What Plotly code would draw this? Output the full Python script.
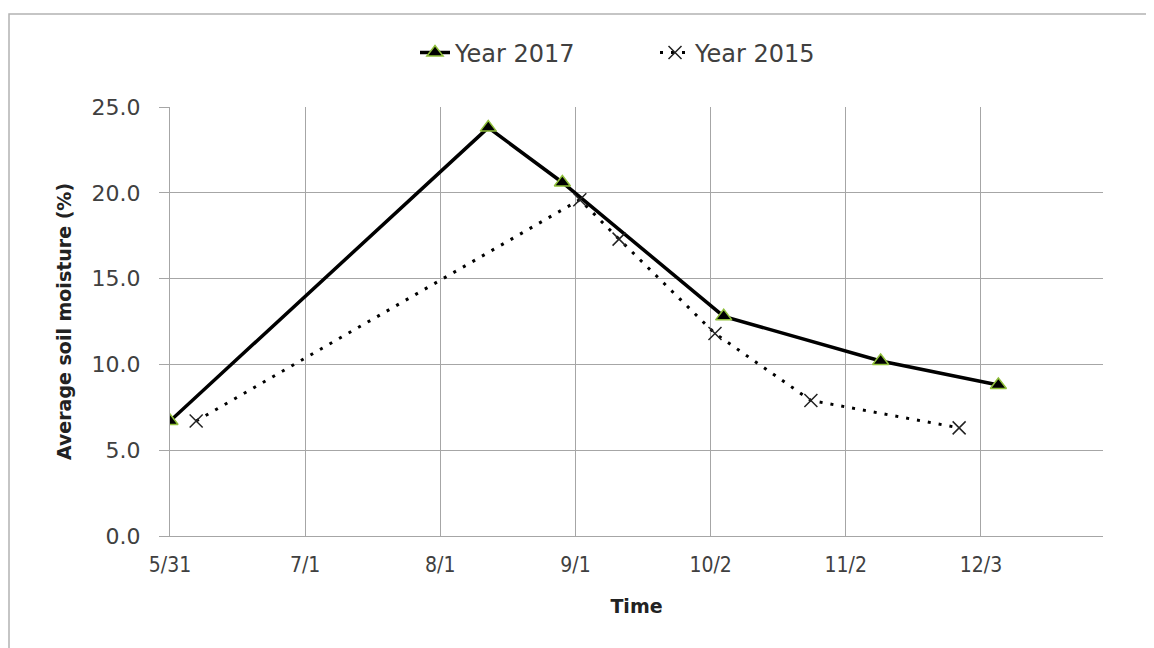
import plotly.graph_objects as go

# Data (dates plotted on a common year; axis shows month/day only)
dates_2017 = ["2017-05-31", "2017-08-12", "2017-08-29", "2017-10-05", "2017-11-10", "2017-12-07"]
moist_2017 = [6.7, 23.8, 20.6, 12.8, 10.2, 8.8]

dates_2015 = ["2017-06-06", "2017-09-02", "2017-09-11", "2017-10-03", "2017-10-25", "2017-11-28"]
moist_2015 = [6.7, 19.6, 17.3, 11.8, 7.9, 6.3]

y_ticks = [0, 5, 10, 15, 20, 25]

fig = go.Figure()
fig.add_trace(go.Scatter(
    x=dates_2017, y=moist_2017, name="Year 2017", mode="lines+markers",
    line=dict(color="black", width=3.5),
    marker=dict(symbol="triangle-up", size=14, color="black",
                line=dict(color="#8fbf3a", width=1.5)),
))
fig.add_trace(go.Scatter(
    x=dates_2015, y=moist_2015, name="Year 2015", mode="lines+markers",
    line=dict(color="black", width=3, dash="3px,8px"),
    marker=dict(symbol="x-thin", size=13, color="black",
                line=dict(color="#222222", width=1.5)),
))

grid = "#a6a6a6"
txt = "#404040"
# body has an 8px offset in the page, compensated in the margins
fig.update_layout(
    width=1154, height=648,
    paper_bgcolor="white", plot_bgcolor="white",
    margin=dict(l=162, r=59, t=99, b=120),
    font=dict(family="DejaVu Sans", size=20, color=txt),
    showlegend=True,
    legend=dict(orientation="h", x=0.2626, xanchor="left", y=1.126, yanchor="middle",
                font=dict(family="DejaVu Sans", size=24, color=txt),
                bgcolor="rgba(0,0,0,0)", entrywidth=195, traceorder="normal"),
    xaxis=dict(
        type="date", range=["2017-05-31", "2017-12-31"],
        tick0="2017-05-31", dtick=31 * 86400000, tickformat="%-m/%-d",
        showgrid=True, gridcolor=grid, gridwidth=1,
        showline=True, linecolor=grid, linewidth=1,
        ticks="", zeroline=False, ticklabelstandoff=10,
        tickfont=dict(family="DejaVu Sans Condensed", size=21, color=txt),
        title=dict(text="<b>Time</b>", font=dict(family="DejaVu Sans", size=19, color="#222222"), standoff=23),
    ),
    yaxis=dict(
        range=[0, 25], tickvals=y_ticks, ticktext=[f"{v:.1f}" for v in y_ticks],
        showgrid=True, gridcolor=grid, gridwidth=1,
        showline=True, linecolor=grid, linewidth=1,
        ticks="outside", ticklen=10, tickcolor=grid, zeroline=False,
        ticklabelstandoff=14,
        tickfont=dict(family="DejaVu Sans", size=22, color=txt),
        title=dict(text="<b>Average soil moisture (%)</b>", font=dict(family="DejaVu Sans", size=19, color="#222222"), standoff=14),
    ),
    shapes=[dict(type="rect", xref="paper", yref="paper",
                 x0=(9 - 170) / 933, x1=(1147 - 170) / 933,
                 y0=(536 - 700) / 429, y1=(536 - 14) / 429,
                 line=dict(color="#b3b3b3", width=1.5), fillcolor="rgba(0,0,0,0)", layer="below")],
)

fig.write_html("out.html")
